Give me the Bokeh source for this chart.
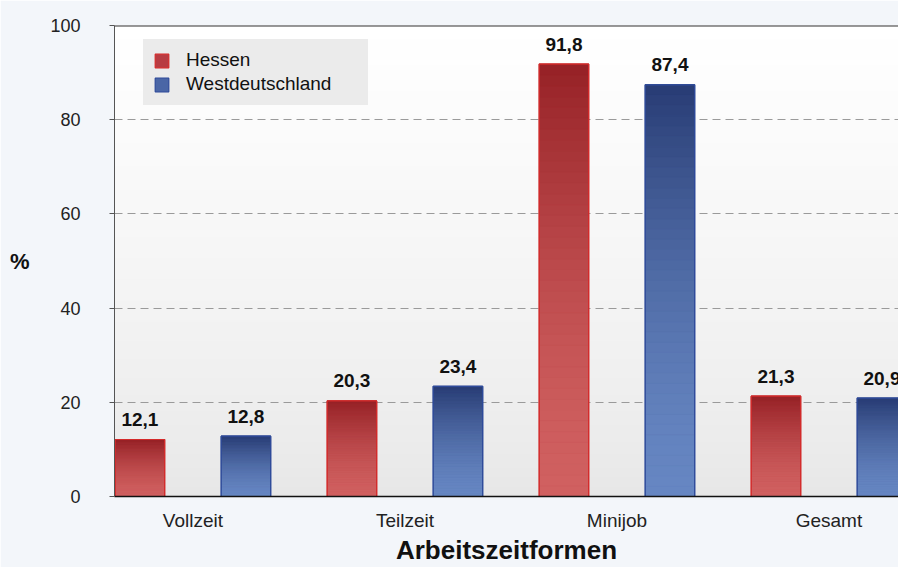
from bokeh.plotting import figure
from bokeh.models import ColumnDataSource, FixedTicker, Span, Legend, LegendItem, Range1d
from bokeh.core.properties import value
from bokeh.embed import file_html
from bokeh.resources import INLINE
import numpy as np

categories = ["Vollzeit", "Teilzeit", "Minijob", "Gesamt"]
hessen = [12.1, 20.3, 91.8, 21.3]
westdeutschland = [12.8, 23.4, 87.4, 20.9]
series_names = ["Hessen", "Westdeutschland"]
y_ticks = [0, 20, 40, 60, 80, 100]

FONT = "Liberation Sans"
X0, X1 = -0.370, 3.328
BAR_W = 0.233
OFFSETS = [-0.25, 0.25]
TOP_COLORS = [(150, 33, 38), (40, 60, 116)]
BOT_COLORS = [(208, 96, 96), (102, 134, 194)]
EDGE_COLORS = ["#d42a2a", "#2e4a9a"]
MID_COLORS = ["#b83c42", "#4a66a6"]
LEGEND_BG = "#ebebeb"

p = figure(width=898, height=567, x_range=Range1d(X0, X1), y_range=Range1d(0, 100),
           output_backend="svg", toolbar_location=None,
           min_border_left=114, min_border_right=0, min_border_top=25, min_border_bottom=71)
p.border_fill_color = "#f3f6fa"
p.background_fill_color = "#f0f0f0"
p.outline_line_color = None

# plot-area background gradient (decoration)
N = 200
img = np.zeros((N, 1), dtype=np.uint32)
view = img.view(dtype=np.uint8).reshape((N, 1, 4))
for r in range(N):
    t = r / (N - 1)
    g = int(round(230 + 25 * t ** 0.7))
    view[r, 0] = [g, g, g, 255]
p.image_rgba(image=[img], x=X0, y=0, dw=X1 - X0, dh=100, level="image")


def hexcol(c):
    return "#%02x%02x%02x" % tuple(int(round(v)) for v in c)


def lerp(a, b, t):
    return tuple(a[i] + (b[i] - a[i]) * t for i in range(3))


K = 40
seg = dict(left=[], right=[], bottom=[], top=[], color=[])
outl = dict(left=[], right=[], bottom=[], top=[], color=[])
lab = dict(x=[], y=[], text=[])
base_sources = []
for s, vals in enumerate([hessen, westdeutschland]):
    base = dict(left=[], right=[], bottom=[], top=[])
    for i, v in enumerate(vals):
        xc = i + OFFSETS[s]
        for k in range(K):
            t = (k + 0.5) / K  # 0 bottom -> 1 top
            c = lerp(BOT_COLORS[s], TOP_COLORS[s], t ** 1.6)
            seg["left"].append(xc - BAR_W / 2)
            seg["right"].append(xc + BAR_W / 2)
            seg["bottom"].append(v * k / K)
            seg["top"].append(v * (k + 1) / K)
            seg["color"].append(hexcol(c))
        for d in (outl, base):
            d["left"].append(xc - BAR_W / 2)
            d["right"].append(xc + BAR_W / 2)
            d["bottom"].append(0)
            d["top"].append(v)
        outl["color"].append(EDGE_COLORS[s])
        lab["x"].append(xc)
        lab["y"].append(v)
        lab["text"].append(("%.1f" % v).replace(".", ","))
    base_sources.append(base)

# base bars (also used for the legend swatches), then gradient, then edges
base_renderers = []
for s in range(2):
    r = p.quad(left="left", right="right", bottom="bottom", top="top",
               fill_color=MID_COLORS[s], line_color=EDGE_COLORS[s], line_width=1.2,
               source=ColumnDataSource(base_sources[s]))
    base_renderers.append(r)
p.quad(left="left", right="right", bottom="bottom", top="top", fill_color="color",
       line_color="color", line_width=0.6, source=ColumnDataSource(seg))
p.quad(left="left", right="right", bottom="bottom", top="top", fill_color=None,
       line_color="color", line_width=1.2, source=ColumnDataSource(outl))
p.text(x="x", y="y", text="text", source=ColumnDataSource(lab),
       text_font=value(FONT), text_font_style="bold", text_font_size="19px",
       text_align="center", text_baseline="alphabetic", y_offset=-20, text_color="#111111")

items = [LegendItem(label=series_names[s], renderers=[base_renderers[s]], index=0)
         for s in range(2)]
legend = Legend(items=items, location=(29, 391), padding=9, spacing=2,
                glyph_width=17, glyph_height=17, label_standoff=16, label_width=172,
                label_height=22,
                label_text_font=FONT, label_text_font_size="19px", label_text_color="#111111",
                background_fill_color=LEGEND_BG, background_fill_alpha=1.0,
                border_line_color=LEGEND_BG, border_line_width=1, margin=0)
p.add_layout(legend, "center")

# top line
p.add_layout(Span(location=100, dimension="width", line_color="#333333", line_width=2))

# y axis
p.yaxis.ticker = FixedTicker(ticks=y_ticks)
p.yaxis.major_label_text_font = FONT
p.yaxis.major_label_text_font_size = "18px"
p.yaxis.major_label_text_color = "#222222"
p.yaxis.major_tick_out = 5
p.yaxis.major_tick_in = 0
p.yaxis.minor_tick_line_color = None
p.yaxis.axis_line_color = "#555555"
p.yaxis.major_tick_line_color = "#555555"
p.yaxis.major_label_standoff = 29
p.yaxis.axis_label = "%"
p.yaxis.axis_label_text_font = FONT
p.yaxis.axis_label_text_font_style = "bold"
p.yaxis.axis_label_text_font_size = "22px"
p.yaxis.axis_label_text_color = "#111111"
p.yaxis.axis_label_standoff = 18
p.yaxis.axis_label_orientation = "horizontal"

p.ygrid.ticker = FixedTicker(ticks=y_ticks)
p.ygrid.grid_line_dash = "8 5"
p.ygrid.grid_line_color = "#9a9a9a"
p.xgrid.visible = False

# x axis
p.xaxis.ticker = FixedTicker(ticks=list(range(len(categories))))
p.xaxis.major_label_overrides = {i: c for i, c in enumerate(categories)}
p.xaxis.major_label_text_font = FONT
p.xaxis.major_label_text_font_size = "19px"
p.xaxis.major_label_text_color = "#222222"
p.xaxis.major_tick_out = 0
p.xaxis.major_tick_in = 0
p.xaxis.minor_tick_line_color = None
p.xaxis.axis_line_color = "#111111"
p.xaxis.axis_line_width = 1.5
p.xaxis.major_label_standoff = 13
p.xaxis.axis_label = "Arbeitszeitformen"
p.xaxis.axis_label_text_font = FONT
p.xaxis.axis_label_text_font_style = "bold"
p.xaxis.axis_label_text_font_size = "26px"
p.xaxis.axis_label_text_color = "#111111"
p.xaxis.axis_label_standoff = 1

open("out.html", "w").write(file_html(p, INLINE))
